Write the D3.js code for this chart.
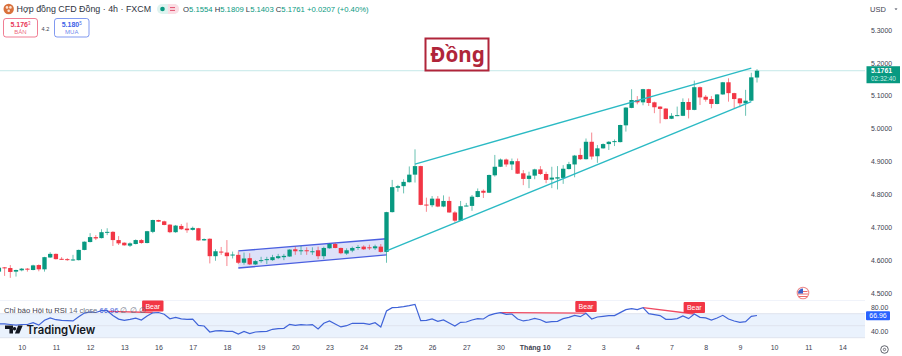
<!DOCTYPE html>
<html>
<head>
<meta charset="utf-8">
<title>Hợp đồng CFD Đồng</title>
<script src="https://cdn.jsdelivr.net/npm/d3@7"></script>
<style>
  html, body { margin: 0; padding: 0; background: #fff; overflow: hidden; }
  text { font-family: "Liberation Sans", Arial, sans-serif; }
</style>
</head>
<body>
<div id="canvas"></div>
<script>
"use strict"

/* Candles, one per 4h bar, oldest first */
const opens = [4.565,4.578,4.576,4.565,4.569,4.574,4.570,4.585,4.572,4.608,
  4.619,4.604,4.603,4.600,4.600,4.631,4.655,4.670,4.667,4.683,
  4.686,4.661,4.653,4.644,4.649,4.661,4.652,4.686,4.722,4.718,
  4.708,4.685,4.704,4.696,4.692,4.697,4.660,4.665,4.612,4.626,
  4.623,4.614,4.616,4.592,4.606,4.587,4.598,4.600,4.600,4.606,
  4.609,4.611,4.633,4.627,4.630,4.625,4.630,4.612,4.636,4.649,
  4.637,4.620,4.629,4.637,4.641,4.639,4.636,4.641,4.625,4.746,
  4.820,4.825,4.837,4.860,4.886,4.769,4.767,4.787,4.763,4.780,
  4.745,4.720,4.765,4.765,4.792,4.811,4.805,4.858,4.884,4.906,
  4.891,4.901,4.864,4.847,4.857,4.876,4.862,4.845,4.848,4.850,
  4.877,4.891,4.920,4.907,4.960,4.916,4.940,4.953,4.960,4.959,
  5.010,5.063,5.087,5.080,5.120,5.080,5.067,5.061,5.030,5.039,
  5.039,5.081,5.057,5.126,5.097,5.090,5.075,5.104,5.141,5.108,
  5.092,5.077,5.085,5.1554];
const highs = [4.582,4.579,4.585,4.571,4.576,4.576,4.586,4.587,4.610,4.624,
  4.620,4.609,4.606,4.616,4.632,4.657,4.682,4.676,4.694,4.697,
  4.688,4.673,4.654,4.654,4.663,4.664,4.689,4.723,4.723,4.720,
  4.709,4.707,4.710,4.714,4.702,4.698,4.666,4.666,4.633,4.640,
  4.661,4.626,4.626,4.623,4.621,4.600,4.610,4.610,4.616,4.619,
  4.619,4.633,4.641,4.643,4.639,4.639,4.641,4.641,4.651,4.653,
  4.638,4.636,4.641,4.646,4.645,4.647,4.647,4.649,4.747,4.844,
  4.829,4.846,4.885,4.937,4.887,4.790,4.795,4.795,4.797,4.793,
  4.749,4.780,4.774,4.798,4.818,4.815,4.860,4.920,4.909,4.909,
  4.909,4.909,4.874,4.869,4.878,4.886,4.869,4.884,4.886,4.889,
  4.899,4.920,4.940,4.970,4.988,4.950,4.955,4.962,4.967,5.012,
  5.065,5.120,5.099,5.121,5.121,5.082,5.068,5.062,5.047,5.067,
  5.092,5.092,5.146,5.128,5.102,5.099,5.105,5.142,5.153,5.109,
  5.093,5.118,5.170,5.1809];
const lows = [4.561,4.552,4.546,4.550,4.566,4.565,4.569,4.566,4.565,4.607,
  4.602,4.601,4.598,4.598,4.599,4.630,4.654,4.661,4.666,4.676,
  4.643,4.646,4.644,4.640,4.648,4.650,4.651,4.682,4.716,4.706,
  4.682,4.683,4.692,4.683,4.690,4.659,4.659,4.590,4.598,4.616,
  4.582,4.605,4.588,4.586,4.585,4.585,4.592,4.588,4.598,4.603,
  4.600,4.610,4.616,4.616,4.616,4.616,4.603,4.603,4.635,4.636,
  4.618,4.616,4.624,4.631,4.631,4.631,4.631,4.623,4.592,4.745,
  4.808,4.803,4.836,4.836,4.767,4.747,4.761,4.761,4.761,4.744,
  4.714,4.719,4.764,4.750,4.791,4.789,4.804,4.854,4.883,4.884,
  4.874,4.862,4.828,4.819,4.846,4.859,4.834,4.819,4.815,4.832,
  4.876,4.852,4.905,4.906,4.906,4.896,4.939,4.935,4.947,4.958,
  4.991,5.062,5.074,5.071,5.069,5.047,5.016,5.028,5.029,5.038,
  5.038,5.031,5.056,5.072,5.082,5.062,5.074,5.103,5.082,5.062,
  5.065,5.039,5.084,5.1403];
const closes = [4.577,4.576,4.564,4.570,4.574,4.571,4.584,4.572,4.609,4.619,
  4.603,4.602,4.600,4.602,4.631,4.656,4.670,4.666,4.685,4.686,
  4.661,4.651,4.645,4.651,4.661,4.652,4.688,4.722,4.717,4.707,
  4.685,4.705,4.694,4.691,4.698,4.660,4.664,4.612,4.627,4.623,
  4.612,4.617,4.592,4.605,4.587,4.597,4.600,4.603,4.609,4.612,
  4.613,4.632,4.627,4.630,4.627,4.627,4.612,4.637,4.649,4.637,
  4.621,4.630,4.637,4.640,4.633,4.636,4.642,4.625,4.746,4.822,
  4.825,4.838,4.860,4.886,4.768,4.767,4.787,4.763,4.780,4.745,
  4.720,4.764,4.766,4.793,4.810,4.805,4.859,4.884,4.906,4.891,
  4.901,4.863,4.847,4.857,4.876,4.862,4.844,4.851,4.852,4.878,
  4.892,4.918,4.907,4.960,4.915,4.940,4.953,4.960,4.962,5.011,
  5.064,5.087,5.080,5.120,5.078,5.065,5.060,5.029,5.039,5.041,
  5.081,5.057,5.126,5.095,5.088,5.075,5.104,5.141,5.108,5.090,
  5.077,5.085,5.156,5.1761];

/* RSI 14, one value per candle */
const rsiValues = [53,53,52,51,52,52,55,51,59,63,
  60,59,58.5,58,65,71,73,72,75,75,
  67,61,59,60.5,62.5,59.5,66,71.5,72,69,
  61.5,64,61.5,60.5,61,50.5,49.5,39.5,41.5,41.7,
  40.6,40.6,36.2,40.6,36.8,39.5,40,40.6,44,45,
  45.6,52.3,50.6,51.8,51.2,51.8,44.5,54,57.9,52.9,
  47.9,50,54,54,54,52.3,55,47.9,74.5,80,
  80.6,81.8,83.4,85.6,58.4,59,61.2,57.3,59.5,54.5,
  49.5,55.6,56.2,59.5,61.8,61.2,67.3,70,71.8,69,
  69.5,61.2,57.9,59.5,62.3,60,55.6,56.7,57.3,61.8,
  64,67.3,65,70.6,61.2,64.5,65.6,66.8,66.8,71.8,
  76.8,78.4,76.8,80,70,68.4,66.8,60.6,60.6,61.8,
  66.2,61.8,69.5,64,62.9,59.5,62.9,67.3,61.2,57.9,
  55.6,56.7,65.6,67];

/* Axis ticks */
const priceTicks = [5.3, 5.2, 5.1, 5.0, 4.9, 4.8, 4.7, 4.6, 4.5];
const rsiTicks = [80, 40];
const rsiBand = [70, 50, 30];
const dayLabels = ["10","11","12","13","16","17","18","19","20","23","24","25","26","27","30",
  "Tháng 10","2","3","4","7","8","9","10","11","14"];
const dayIndexes = dayLabels.map((d, i) => 4 + i * 6);

/* Drawn lines, as [candle index, price] */
const wedgeUpper = [[73, 4.892], [132, 5.184]];
const wedgeLower = [[68, 4.628], [132, 5.082]];
const flagShape = [[42, 4.628], [68, 4.665], [68, 4.616], [42, 4.576]];

/* RSI bear divergences, [from index, from rsi, to index, to rsi] */
const bearStarts = [19, 88, 113];
const bearEnds = [27, 103, 122];
const bearFromRsi = [74, 71.8, 80];
const bearToRsi = [72, 71, 69.5];

let svgWidth = 902;
let svgHeight = 356;
let priceAxisX = 865;

const green = "#089981";
const red = "#f23645";
const axisText = "#3d4150";

let svg = d3.select("#canvas")
    .append("svg")
    .attr("width", svgWidth)
    .attr("height", svgHeight)
    .style("display", "block");

let xScale = d3.scaleLinear()
    .domain([0, 133])
    .range([-1.1, 757]);

let yScale = d3.scaleLinear()
    .domain([4.5, 5.3])
    .range([293, 30]);

let rsiScale = d3.scaleLinear()
    .domain([40, 80])
    .range([331.7, 307.7]);

/* Pane separator */
svg.append("line")
    .attr("x1", 0).attr("x2", priceAxisX)
    .attr("y1", 300.5).attr("y2", 300.5)
    .attr("stroke", "#f0f3fa");

/* Last price line */
svg.append("line")
    .attr("x1", 0).attr("x2", priceAxisX)
    .attr("y1", yScale(closes[closes.length - 1]))
    .attr("y2", yScale(closes[closes.length - 1]))
    .attr("stroke", "#c5e8e8");

/* Rising flag behind the candles */
svg.append("path")
    .attr("d", d3.line().x(d => xScale(d[0])).y(d => yScale(d[1])).curve(d3.curveLinearClosed)(flagShape))
    .attr("fill", "#5468e0")
    .attr("fill-opacity", 0.2);
[[flagShape[0], flagShape[1]], [flagShape[3], flagShape[2]]].forEach(seg => {
  svg.append("line")
    .attr("x1", xScale(seg[0][0])).attr("y1", yScale(seg[0][1]))
    .attr("x2", xScale(seg[1][0])).attr("y2", yScale(seg[1][1]))
    .attr("stroke", "#4a5fe0")
    .attr("stroke-width", 1.4);
});

/* Candles */
let candles = svg.selectAll("g.candle")
    .data(d3.range(opens.length))
    .join("g")
    .attr("class", "candle");

let candleColor = i => closes[i] >= opens[i] ? green : red;
let bodyWidth = (xScale(1) - xScale(0)) * 0.76;

candles.append("line")
    .attr("x1", i => xScale(i))
    .attr("x2", i => xScale(i))
    .attr("y1", i => yScale(highs[i]))
    .attr("y2", i => yScale(lows[i]))
    .attr("stroke", candleColor)
    .attr("stroke-opacity", 0.6);

candles.append("rect")
    .attr("x", i => xScale(i) - bodyWidth / 2)
    .attr("width", bodyWidth)
    .attr("y", i => yScale(Math.max(opens[i], closes[i])))
    .attr("height", i => Math.max(1, Math.abs(yScale(opens[i]) - yScale(closes[i]))))
    .attr("fill", candleColor);

/* Wedge trend lines */
[wedgeUpper, wedgeLower].forEach(seg => {
  svg.append("line")
    .attr("x1", xScale(seg[0][0])).attr("y1", yScale(seg[0][1]))
    .attr("x2", xScale(seg[1][0])).attr("y2", yScale(seg[1][1]))
    .attr("stroke", "#2bbac4")
    .attr("stroke-width", 1.4);
});

/* Title box */
svg.append("rect")
    .attr("x", 425.5).attr("y", 38.5)
    .attr("width", 63).attr("height", 32)
    .attr("fill", "#fff")
    .attr("stroke", "#b0253a")
    .attr("stroke-width", 2);
svg.append("text")
    .attr("x", 457.5).attr("y", 62)
    .attr("text-anchor", "middle")
    .attr("fill", "#b0253a")
    .style("font-family", "'Noto Sans'")
    .style("font-size", "20.6px")
    .style("font-weight", "700")
    .text("Đồng");

/* Header */
svg.append("circle").attr("cx", 8.7).attr("cy", 9).attr("r", 5.2).attr("fill", "#d9713c");
[[7, 7.4], [10.4, 7.4], [8.7, 10.8]].forEach(p => {
  svg.append("circle").attr("cx", p[0]).attr("cy", p[1]).attr("r", 1.3).attr("fill", "#fde3d3");
});
svg.append("text")
    .attr("x", 16.5).attr("y", 12.3)
    .attr("fill", "#2e3240")
    .style("font-size", "8.9px")
    .text("Hợp đồng CFD Đồng · 4h · FXCM");

svg.append("rect").attr("x", 157).attr("y", 4).attr("width", 22).attr("height", 10).attr("rx", 5).attr("fill", "#dff3ef");
svg.append("path").attr("d", "M168 4h6a5 5 0 0 1 0 10h-6z").attr("fill", "#fbdde4");
svg.append("circle").attr("cx", 162.5).attr("cy", 9).attr("r", 2.3).attr("fill", green);
svg.append("path").attr("d", "M170 7.6h5M170 10.4h5").attr("stroke", "#e0506e").attr("stroke-width", 1);

let ohlc = svg.append("text")
    .attr("x", 183).attr("y", 12)
    .attr("fill", green)
    .style("font-size", "7.7px");
[["O", "5.1554"], ["H", "5.1809"], ["L", "5.1403"], ["C", "5.1761"]].forEach(p => {
  ohlc.append("tspan").attr("fill", "#2e3240").text(p[0]);
  ohlc.append("tspan").text(p[1] + " ");
});
ohlc.append("tspan").text("+0.0207 (+0.40%)");

/* Sell and buy buttons */
function tradeButton(x, w, color, price, sup, label) {
  svg.append("rect")
    .attr("x", x).attr("y", 18.5)
    .attr("width", w).attr("height", 18.5)
    .attr("rx", 2.5)
    .attr("fill", "#fff")
    .attr("stroke", color)
    .attr("stroke-opacity", 0.65);
  let t = svg.append("text")
    .attr("x", x + w / 2).attr("y", 26.5)
    .attr("text-anchor", "middle")
    .attr("fill", color)
    .style("font-size", "7px")
    .style("font-weight", "700");
  t.append("tspan").text(price);
  t.append("tspan").attr("dy", -1.5).style("font-size", "4.5px").style("font-weight", "400").text(sup);
  svg.append("text")
    .attr("x", x + w / 2).attr("y", 34.3)
    .attr("text-anchor", "middle")
    .attr("fill", color)
    .attr("fill-opacity", 0.8)
    .style("font-size", "6px")
    .text(label);
}
tradeButton(3.5, 34, "#e8395a", "5.176", "3", "BÁN");
tradeButton(54.5, 34.5, "#3d62e8", "5.180", "5", "MUA");
svg.append("text")
    .attr("x", 45.5).attr("y", 30.5)
    .attr("text-anchor", "middle")
    .attr("fill", "#3d4150")
    .style("font-size", "5.6px")
    .text("4.2");

/* Price axis */
let priceAxis = d3.axisRight(yScale)
    .tickValues(priceTicks)
    .tickSize(0)
    .tickPadding(6)
    .tickFormat(d3.format(".4f"));
let priceG = svg.append("g")
    .attr("transform", "translate(" + priceAxisX + ",0)")
    .call(priceAxis);
priceG.select(".domain").remove();
priceG.selectAll("text").attr("fill", axisText).style("font-size", "6.9px").style("font-family", "'Liberation Sans'");

svg.append("text")
    .attr("x", 870).attr("y", 12)
    .attr("fill", axisText)
    .style("font-size", "7.5px")
    .text("USD");
svg.append("path").attr("d", "M894.5 8.5h3l-1.5 1.6z").attr("fill", axisText);

/* Last price tag */
svg.append("rect")
    .attr("x", 866.5).attr("y", yScale(closes[closes.length - 1]) - 4.5)
    .attr("width", 33.5).attr("height", 17)
    .attr("fill", green);
svg.append("text")
    .attr("x", 871).attr("y", yScale(closes[closes.length - 1]) + 2.3)
    .attr("fill", "#fff")
    .style("font-size", "6.9px")
    .style("font-weight", "700")
    .text("5.1761");
svg.append("text")
    .attr("x", 871).attr("y", yScale(closes[closes.length - 1]) + 10)
    .attr("fill", "#cdeee7")
    .style("font-size", "6.4px")
    .text("02:32:40");

/* Flag icon */
svg.append("circle").attr("cx", 803).attr("cy", 293).attr("r", 5.8).attr("fill", "#fff").attr("stroke", "#ee8a8a").attr("stroke-width", 1.1);
svg.append("path").attr("d", "M798.5 291.5h9M798 294h10M798.5 296.5h9").attr("stroke", "#ee6a6a").attr("stroke-width", 1);
svg.append("path").attr("d", "M798 293.5a5 5 0 0 1 5 -5v5z").attr("fill", "#3a5fc8");

/* RSI band */
svg.append("rect")
    .attr("x", 0).attr("width", priceAxisX)
    .attr("y", rsiScale(rsiBand[0]))
    .attr("height", rsiScale(rsiBand[2]) - rsiScale(rsiBand[0]))
    .attr("fill", "#eaf2fd");
svg.selectAll("line.rsi-level")
    .data(rsiBand)
    .join("line")
    .attr("class", "rsi-level")
    .attr("x1", 0).attr("x2", priceAxisX)
    .attr("y1", d => rsiScale(d)).attr("y2", d => rsiScale(d))
    .attr("stroke", "#dfe3ee");

/* RSI divergence lines */
bearStarts.forEach((s, i) => {
  svg.append("line")
    .attr("x1", xScale(s)).attr("y1", rsiScale(bearFromRsi[i]))
    .attr("x2", xScale(bearEnds[i])).attr("y2", rsiScale(bearToRsi[i]))
    .attr("stroke", "#ef4a62")
    .attr("stroke-width", 1.3);
});

/* RSI line */
svg.append("path")
    .attr("d", d3.line().x((d, i) => xScale(i)).y(d => rsiScale(d))(rsiValues))
    .attr("fill", "none")
    .attr("stroke", "#3f63d8")
    .attr("stroke-width", 1.2);

/* Bear labels */
bearEnds.forEach((e, i) => {
  let cx = xScale(e);
  let top = rsiScale(bearToRsi[i]) - 12;
  svg.append("rect")
    .attr("x", cx - 10.7).attr("y", top)
    .attr("width", 21.4).attr("height", 11)
    .attr("rx", 1)
    .attr("fill", red);
  svg.append("text")
    .attr("x", cx).attr("y", top + 8)
    .attr("text-anchor", "middle")
    .attr("fill", "#fff")
    .style("font-size", "7px")
    .text("Bear");
});

/* RSI axis */
let rsiAxis = d3.axisRight(rsiScale)
    .tickValues(rsiTicks)
    .tickSize(0)
    .tickPadding(6)
    .tickFormat(d3.format(".2f"));
let rsiG = svg.append("g")
    .attr("transform", "translate(" + priceAxisX + ",0)")
    .call(rsiAxis);
rsiG.select(".domain").remove();
rsiG.selectAll("text").attr("fill", axisText).style("font-size", "6.9px").style("font-family", "'Liberation Sans'");

/* RSI value tag */
let lastRsi = 66.96;
svg.append("rect")
    .attr("x", 866).attr("y", rsiScale(lastRsi) - 4.3)
    .attr("width", 24).attr("height", 9)
    .attr("rx", 1)
    .attr("fill", "#2962ff");
svg.append("text")
    .attr("x", 878).attr("y", rsiScale(lastRsi) + 2.6)
    .attr("text-anchor", "middle")
    .attr("fill", "#fff")
    .style("font-size", "7px")
    .text(d3.format(".2f")(lastRsi));

/* RSI legend */
let rsiLegend = svg.append("text")
    .attr("x", 4).attr("y", 313)
    .attr("fill", "#3d4150")
    .style("font-size", "7.6px");
rsiLegend.append("tspan").text("Chỉ báo Hội tụ RSI ");
rsiLegend.append("tspan").attr("fill", "#6a6f80").text("14 close ");
rsiLegend.append("tspan").attr("fill", "#3f63d8").text("66.96");
rsiLegend.append("tspan").attr("fill", "#6a6f80").attr("dx", 2).text("∅ ∅ ∅");

/* TradingView logo */
svg.append("path")
    .attr("d", "M5 325.5h8v8h-3.6v-4.4H5zM14.5 327a1.7 1.7 0 1 0 .01 0zM18.2 325.5h4.5l-3.4 8h-4.4z")
    .attr("fill", "#131722");
svg.append("text")
    .attr("x", 26.5).attr("y", 333.5)
    .attr("fill", "#131722")
    .style("font-family", "Inter")
    .style("font-size", "11.3px")
    .style("font-weight", "600")
    .text("TradingView");

/* Time axis */
let timeAxis = d3.axisBottom(xScale)
    .tickValues(dayIndexes)
    .tickSize(0)
    .tickPadding(5)
    .tickFormat((d, i) => dayLabels[i]);
let timeG = svg.append("g")
    .attr("transform", "translate(0,340)")
    .call(timeAxis);
timeG.select(".domain").remove();
timeG.selectAll("text")
    .attr("fill", axisText)
    .style("font-size", "7px")
    .style("font-family", "'Liberation Sans'")
    .style("font-weight", (d, i) => dayLabels[i] === "Tháng 10" ? "700" : "400");

/* Settings gear */
svg.append("circle").attr("cx", 884.5).attr("cy", 349.5).attr("r", 3.8).attr("fill", "none").attr("stroke", "#50535e").attr("stroke-width", 0.9);
svg.append("circle").attr("cx", 884.5).attr("cy", 349.5).attr("r", 1.2).attr("fill", "none").attr("stroke", "#50535e").attr("stroke-width", 0.8);
</script>
</body>
</html>
